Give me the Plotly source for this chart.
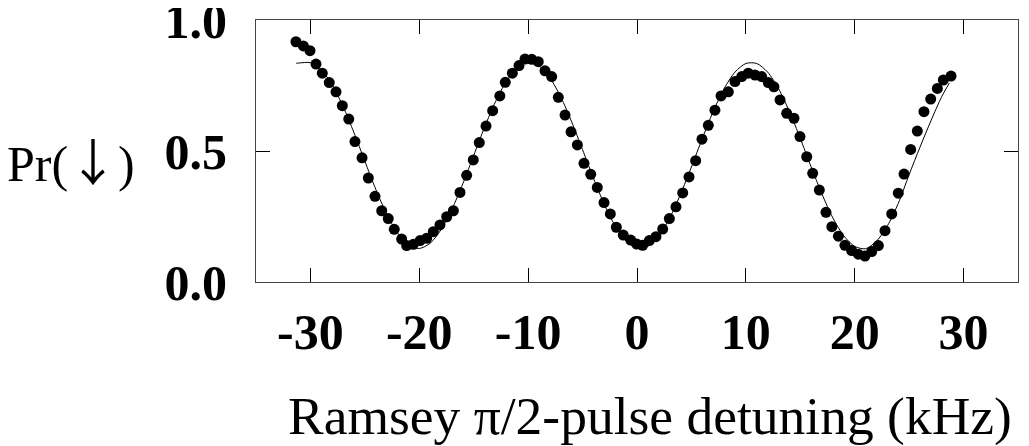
import plotly.graph_objects as go

# measured data points (detuning kHz, probability)
det_khz = [-31.33, -30.65, -30.04, -29.49, -28.91, -28.27, -27.65, -27.07, -26.48, -25.91,
           -25.26, -24.68, -24.07, -23.45, -22.85, -22.3, -21.62, -21.16, -20.55, -19.93,
           -19.32, -18.71, -18.1, -17.48, -16.87, -16.26, -15.65, -15.04, -14.49, -13.87,
           -13.26, -12.6, -12.1, -11.45, -10.84, -10.29, -9.67, -9.07, -8.45, -7.84,
           -7.23, -6.61, -6.06, -5.48, -4.87, -4.25, -3.65, -3.03, -2.45, -1.9,
           -1.26, -0.58, -0.03, 0.52, 1.13, 1.74, 2.36, 2.97, 3.58, 4.2,
           4.78, 5.39, 5.97, 6.55, 7.16, 7.72, 8.39, 9.0, 9.62, 10.22,
           10.84, 11.45, 12.06, 12.58, 13.14, 13.75, 14.42, 14.97, 15.59, 16.14,
           16.75, 17.36, 17.9, 18.5, 19.1, 19.72, 20.33, 20.94, 21.56, 22.17,
           22.78, 23.4, 24.0, 24.53, 25.14, 25.75, 26.36, 26.98, 27.59, 28.14, 28.85]
prob_down = [0.917, 0.901, 0.883, 0.832, 0.797, 0.761, 0.726, 0.673, 0.622, 0.536,
             0.474, 0.397, 0.327, 0.272, 0.242, 0.201, 0.164, 0.139, 0.144, 0.158,
             0.167, 0.192, 0.218, 0.249, 0.272, 0.342, 0.407, 0.466, 0.532, 0.595,
             0.654, 0.71, 0.762, 0.797, 0.826, 0.851, 0.85, 0.841, 0.806, 0.784,
             0.705, 0.637, 0.573, 0.523, 0.453, 0.411, 0.361, 0.303, 0.26, 0.209,
             0.179, 0.16, 0.145, 0.14, 0.158, 0.173, 0.202, 0.242, 0.287, 0.34,
             0.401, 0.463, 0.545, 0.598, 0.656, 0.71, 0.726, 0.765, 0.784, 0.797,
             0.79, 0.784, 0.761, 0.745, 0.695, 0.644, 0.625, 0.555, 0.478, 0.415,
             0.351, 0.266, 0.211, 0.175, 0.14, 0.12, 0.106, 0.099, 0.116, 0.139,
             0.196, 0.26, 0.339, 0.412, 0.506, 0.576, 0.65, 0.698, 0.739, 0.771, 0.786]

# fitted curve
fit_x = [-31.3, -31, -30, -29, -28, -27, -26, -25, -24, -23, -22, -21, -20, -19, -18, -17,
         -16, -15, -14, -13, -12, -11, -10, -9, -8, -7, -6, -5, -4, -3, -2, -1,
         0, 1, 2, 3, 4, 5, 6, 7, 8, 9, 10, 11, 12, 13, 14, 15,
         16, 17, 18, 19, 20, 21, 22, 23, 24, 25, 26, 27, 28, 28.7]
fit_y = [0.835, 0.836, 0.837, 0.810, 0.752, 0.670, 0.570, 0.461, 0.354, 0.260, 0.187, 0.142,
         0.128, 0.148, 0.200, 0.278, 0.375, 0.483, 0.591, 0.688, 0.766, 0.818, 0.838, 0.825,
         0.779, 0.706, 0.611, 0.505, 0.396, 0.296, 0.214, 0.156, 0.129, 0.136, 0.176, 0.244,
         0.335, 0.439, 0.548, 0.651, 0.738, 0.801, 0.834, 0.834, 0.801, 0.738, 0.651, 0.548,
         0.439, 0.335, 0.244, 0.176, 0.136, 0.127, 0.156, 0.214, 0.300, 0.410, 0.515, 0.615,
         0.708, 0.760]

x_ticks = [-30, -20, -10, 0, 10, 20, 30]
y_ticks = [0.0, 0.5, 1.0]
x_range = [-35, 35]
y_range = [0, 1]

fig = go.Figure()
fig.add_trace(go.Scatter(x=fit_x, y=fit_y, mode="lines",
                         line=dict(color="black", width=1, shape="spline", smoothing=0.8),
                         showlegend=False, hoverinfo="skip"))
fig.add_trace(go.Scatter(x=det_khz, y=prob_down, mode="markers",
                         marker=dict(color="black", size=11, line=dict(width=0)),
                         showlegend=False, cliponaxis=False))
# empty trace to carry the mirrored (top / right) tick axes
fig.add_trace(go.Scatter(x=[None], y=[None], xaxis="x2", yaxis="y2",
                         showlegend=False, hoverinfo="skip"))

tickfont = dict(family="Liberation Serif", size=50, color="black")
common = dict(ticks="inside", ticklen=14, tickwidth=1, tickcolor="black",
              showgrid=False, zeroline=False)
fig.update_layout(
    width=1021, height=438,
    margin=dict(l=248, r=11, t=12, b=164, autoexpand=False),
    paper_bgcolor="white", plot_bgcolor="white",
    font=dict(family="Liberation Serif", color="black"),
    xaxis=dict(range=x_range, tickvals=x_ticks, ticktext=["<b>%d</b>" % v for v in x_ticks],
               showline=True, linecolor="#444", linewidth=1, mirror=True,
               tickfont=tickfont, ticklabelstandoff=6, ticklabeloverflow="allow",
               automargin=False, **common),
    yaxis=dict(range=y_range, tickvals=y_ticks, ticktext=["<b>%.1f</b>" % v for v in y_ticks],
               showline=True, linecolor="#444", linewidth=1, mirror=True,
               tickfont=tickfont, ticklabelstandoff=18, ticklabeloverflow="allow",
               automargin=False, **common),
    xaxis2=dict(range=x_range, tickvals=x_ticks, overlaying="x", side="top",
                showticklabels=False, showline=False, automargin=False, **common),
    yaxis2=dict(range=y_range, tickvals=y_ticks, overlaying="y", side="right",
                showticklabels=False, showline=False, automargin=False, **common),
    annotations=[
        dict(text="Pr(<span style='font-family:Noto Sans CJK JP'>↓</span>)",
             xref="paper", yref="paper",
             x=-0.243, y=0.47, xanchor="center", yanchor="middle", showarrow=False,
             font=dict(family="Liberation Serif", size=50, color="black")),
        dict(text="Ramsey π/2-pulse detuning (kHz)", xref="paper", yref="paper",
             x=0.517, y=-0.51, xanchor="center", yanchor="middle", showarrow=False,
             font=dict(family="Liberation Serif", size=53.5, color="black")),
    ],
)

fig.write_html("out.html")
